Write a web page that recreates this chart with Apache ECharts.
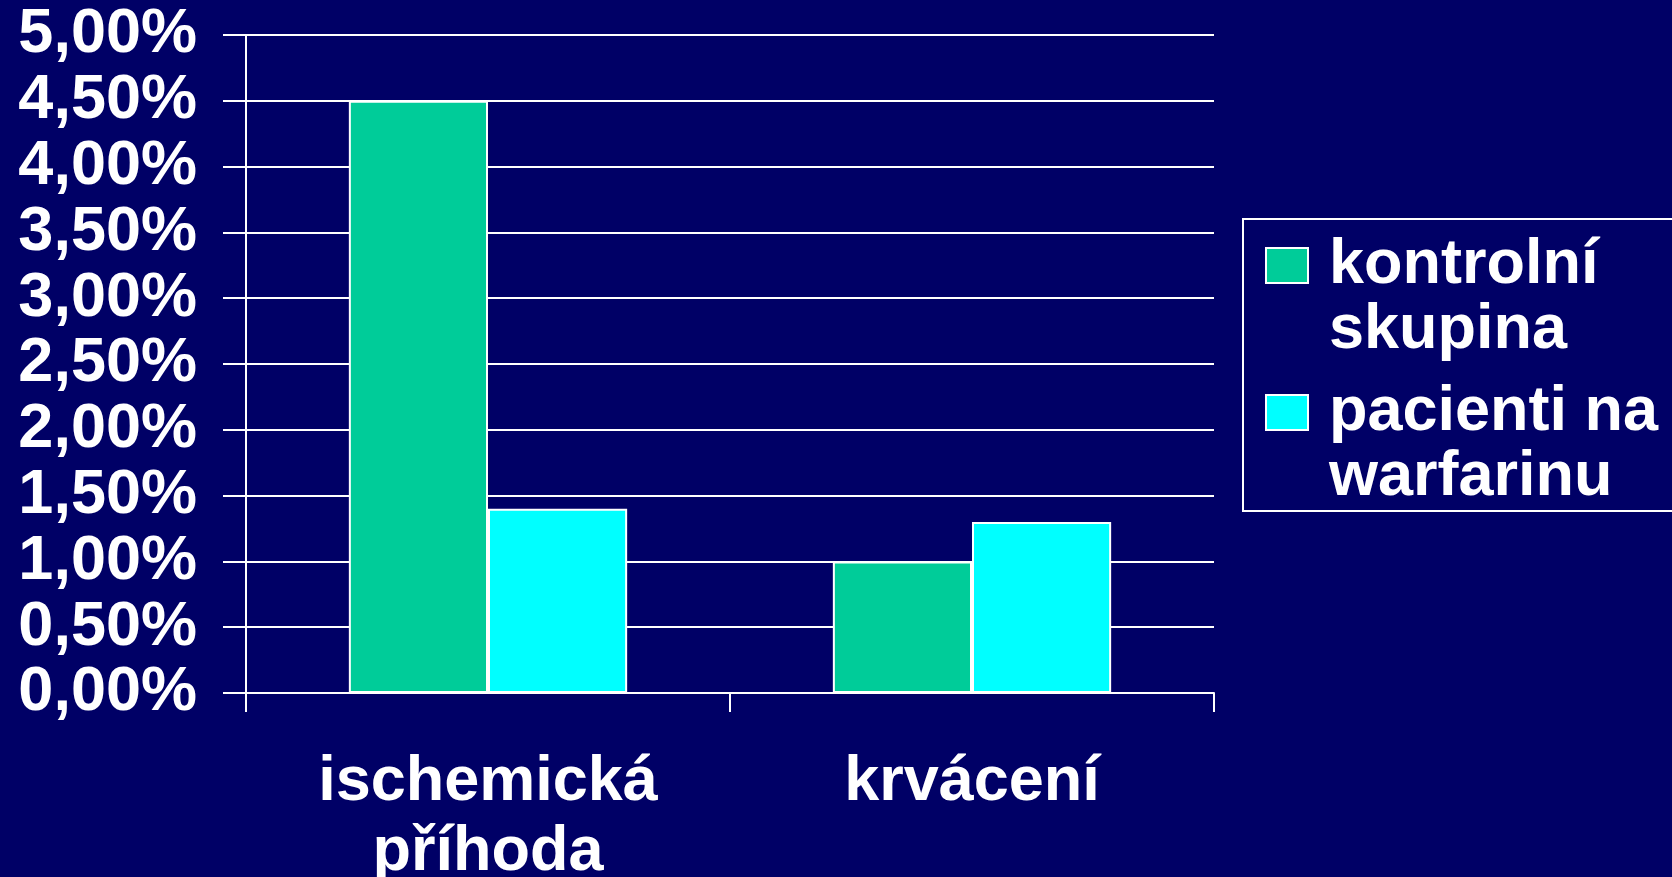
<!DOCTYPE html>
<html>
<head>
<meta charset="utf-8">
<script src="https://cdn.jsdelivr.net/npm/echarts@6/dist/echarts.min.js"></script>
<style>
html,body{margin:0;padding:0;background:#000066;}
#chart{width:1672px;height:877px;}
</style>
</head>
<body>
<div id="chart"></div>
<script>
const categories = ['ischemická\npříhoda', 'krvácení'];
const seriesNames = ['kontrolní\nskupina', 'pacienti na\nwarfarinu'];
const controlValues = [4.5, 1.0];
const warfarinValues = [1.4, 1.3];
const yMin = 0, yMax = 5, yStep = 0.5;

const FONT = 'Liberation Sans, Arial, sans-serif';
const FS = 63;
// legend marker: square drawn in the upper part of a tall icon box so it lines up with the first text line
const legendIcon = 'path://M0,0 M0,15 L42,15 L42,50 L0,50 Z M42,130';

const chart = echarts.init(document.getElementById('chart'), null, {renderer: 'canvas'});
chart.setOption({
  backgroundColor: '#000066',
  animation: false,
  grid: {left: 246, right: 458, top: 35, bottom: 184, containLabel: false, outerBoundsMode: 'none'},
  legend: {
    orient: 'vertical',
    left: 1243, top: 219,
    itemWidth: 42, itemHeight: 130, itemGap: 15,
    borderColor: '#ffffff', borderWidth: 2,
    padding: [13, 40, 0, 22],
    icon: legendIcon,
    itemStyle: {borderColor: '#ffffff', borderWidth: 2},
    textStyle: {
      color: '#ffffff', fontSize: FS, fontWeight: 'bold', fontFamily: FONT,
      lineHeight: 65, padding: [0, 0, 0, 16]
    },
    data: seriesNames
  },
  xAxis: {
    type: 'category',
    data: categories,
    axisLine: {show: true, lineStyle: {color: '#ffffff', width: 2}},
    axisTick: {show: true, length: 19, lineStyle: {color: '#ffffff', width: 2}},
    axisLabel: {color: '#ffffff', fontSize: FS, fontWeight: 'bold', fontFamily: FONT, lineHeight: 70, margin: 55}
  },
  yAxis: {
    type: 'value',
    min: yMin, max: yMax, interval: yStep,
    axisLine: {show: true, lineStyle: {color: '#ffffff', width: 2}},
    axisTick: {show: true, length: 23, lineStyle: {color: '#ffffff', width: 2}},
    splitLine: {show: true, lineStyle: {color: '#ffffff', width: 2}},
    axisLabel: {
      color: '#ffffff', fontSize: FS, fontWeight: 'bold', fontFamily: FONT, margin: 49,
      formatter: v => v.toFixed(2).replace('.', ',') + '%'
    }
  },
  series: [
    {
      name: seriesNames[0], type: 'bar', data: controlValues,
      barGap: '0%', barCategoryGap: '42.5%',
      itemStyle: {color: '#00CC99', borderColor: '#ffffff', borderWidth: 2}
    },
    {
      name: seriesNames[1], type: 'bar', data: warfarinValues,
      barGap: '0%', barCategoryGap: '42.5%',
      itemStyle: {color: '#00FFFF', borderColor: '#ffffff', borderWidth: 2}
    }
  ]
});
</script>
</body>
</html>
